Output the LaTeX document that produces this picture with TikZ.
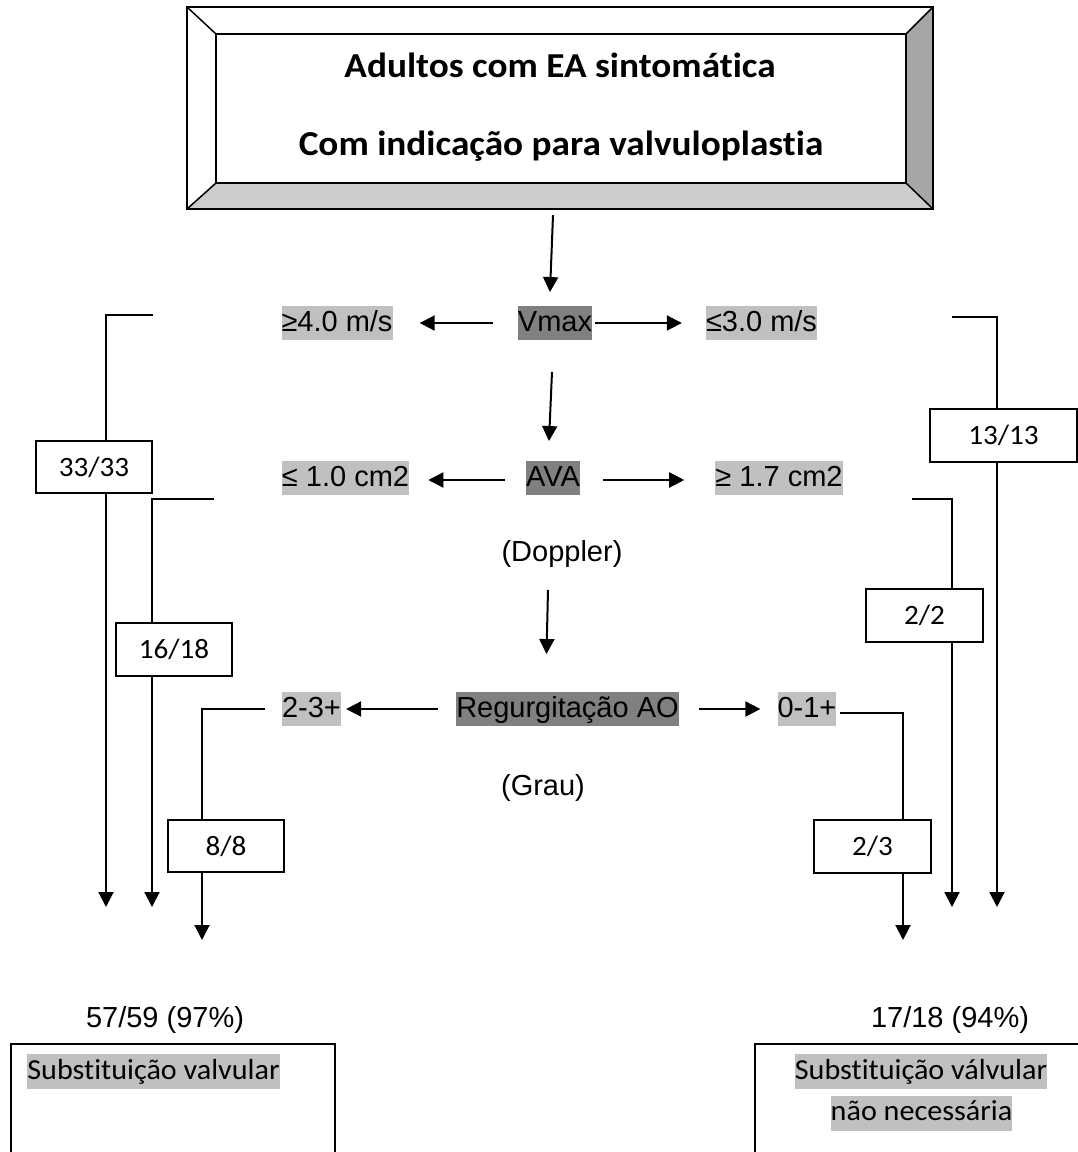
\documentclass[tikz,border=0pt]{standalone}
\usepackage{fontspec}
\setmainfont{Liberation Sans}
\newfontfamily\carl[Ligatures=NoCommon,FakeStretch=1.04]{Carlito}
\newfontfamily\carlt[Ligatures=NoCommon,FakeStretch=1.065]{Carlito}
\usetikzlibrary{arrows.meta}
\definecolor{hl}{HTML}{C0C0C0}
\definecolor{hd}{HTML}{808080}
\definecolor{bevR}{HTML}{A6A6A6}
\definecolor{bevB}{HTML}{CCCCCC}
\begin{document}
\begin{tikzpicture}[x=1pt,y=-1pt,
  arr/.style={line width=2pt,-{Triangle[width=15pt,length=15pt]}},
  ln/.style={line width=2pt},
  ar/.style={font=\fontsize{29}{34}\selectfont, inner sep=0pt, text height=23pt, text depth=6.5pt, inner ysep=2pt},
  hlL/.style={ar, fill=hl},
  hlD/.style={ar, fill=hd},
  numbox/.style={draw, line width=1.5pt, fill=white, inner sep=0pt, font=\carl\fontsize{28}{32}\selectfont},
  ct/.style={font=\carl\fontsize{29}{34}\selectfont, inner sep=0pt, fill=hl, text height=23pt, text depth=8pt, inner ysep=2pt},
  resbox/.style={draw, line width=1.5pt, inner sep=0pt, anchor=north west},
  ttl/.style={font=\carlt\bfseries\fontsize{35}{40}\selectfont, anchor=base, inner sep=0pt}
]
\useasboundingbox (0,0) rectangle (1078,1152);
\clip (0,0) rectangle (1078,1152);
\fill[white] (0,0) rectangle (1078,1152);

% ---- top bevelled box ----
\node[minimum width=746pt, minimum height=202pt, inner sep=0pt] (top) at (560,108) {};
\fill[white] (187,7) rectangle (933,209);
\fill[bevR] (933,7) -- (933,209) -- (906,183) -- (906,34) -- cycle;
\fill[bevB] (187,209) -- (933,209) -- (906,183) -- (216,183) -- cycle;
\draw[line width=1.5pt] (187,7) rectangle (933,209);
\draw[line width=1.5pt] (216,34) rectangle (906,183);
\draw[line width=1.5pt] (187,7) -- (216,34) (933,7) -- (906,34) (187,209) -- (216,183) (933,209) -- (906,183);
\node[ttl] (t1) at (560,77) {Adultos com EA sintomática};
\node[ttl] (t2) at (561,155) {Com indicação para valvuloplastia};

% ---- row 1 ----
\node[hlL] (vge4) at (337,323) {≥4.0 m/s};
\node[hlD] (vmax) at (555,323) {Vmax};
\node[hlL] (vle3) at (761.5,323) {≤3.0 m/s};
% ---- row 2 ----
\node[hlL] (ale1) at (345.5,478) {≤ 1.0 cm2};
\node[hlD] (ava) at (553,478) {AVA};
\node[hlL] (age17) at (779,478) {≥ 1.7 cm2};
\node[ar] (doppler) at (562,553) {(Doppler)};
% ---- row 3 ----
\node[hlL] (r23) at (311.5,709) {2-3+};
\node[hlD] (regurg) at (567.5,709) {Regurgitação AO};
\node[hlL] (r01) at (807,709) {0-1+};
\node[ar] (grau) at (543,787) {(Grau)};

% ---- central arrows ----
\draw[arr] ([xshift=-7pt,yshift=-6pt]top.south) -- ([xshift=-5pt,yshift=14pt]vmax.north);
\draw[arr] ([xshift=-25pt]vmax.west) -- ([xshift=27pt]vge4.east);
\draw[arr] ([xshift=3pt]vmax.east) -- ([xshift=-24pt]vle3.west);
\draw[arr] ([xshift=-3pt,yshift=-32pt]vmax.south) -- ([xshift=-4pt,yshift=20pt]ava.north);
\draw[arr] ([xshift=-21pt,yshift=-2pt]ava.west) -- ([xshift=19pt,yshift=-2pt]ale1.east);
\draw[arr] ([xshift=23pt,yshift=-2pt]ava.east) -- ([xshift=-31pt,yshift=-2pt]age17.west);
\draw[arr] ([xshift=-14pt,yshift=-20pt]doppler.south) -- ([xshift=-21pt,yshift=38pt]regurg.north);
\draw[arr] ([xshift=-18pt]regurg.west) -- ([xshift=5pt]r23.east);
\draw[arr] ([xshift=20pt]regurg.east) -- ([xshift=-17pt]r01.west);

% ---- count boxes ----
\node[numbox, minimum width=116pt, minimum height=52pt] (b33) at (94,467) {33/33};
\node[numbox, minimum width=116pt, minimum height=53pt] (b1618) at (174,649.5) {16/18};
\node[numbox, minimum width=116pt, minimum height=52pt] (b88) at (226,846) {8/8};
\node[numbox, minimum width=117pt, minimum height=53pt] (b23) at (872.5,846.5) {2/3};
\node[numbox, minimum width=117pt, minimum height=53pt] (b22) at (924.5,615.5) {2/2};
\node[numbox, minimum width=147pt, minimum height=53pt] (b1313) at (1003.5,435.5) {13/13};

% ---- bracket connectors ----
\coordinate (c1) at (153,315);  \coordinate (c1b) at (106,907);
\coordinate (c2) at (214,499);  \coordinate (c2b) at (152,907);
\coordinate (c3) at (265,709);  \coordinate (c3b) at (202,940);
\coordinate (c4) at (840,713);  \coordinate (c4b) at (903,940);
\coordinate (c5) at (912,499);  \coordinate (c5b) at (952,907);
\coordinate (c6) at (952,317);  \coordinate (c6b) at (997,907);

\draw[ln] (c1) -- (c1 -| c1b) -- (b33.north -| c1b);
\draw[arr] (b33.south -| c1b) -- (c1b);
\draw[ln] (c2) -- (c2 -| c2b) -- (b1618.north -| c2b);
\draw[arr] (b1618.south -| c2b) -- (c2b);
\draw[ln] (c3) -- (c3 -| c3b) -- (b88.north -| c3b);
\draw[arr] (b88.south -| c3b) -- (c3b);
\draw[ln] (c4) -- (c4 -| c4b) -- (b23.north -| c4b);
\draw[arr] (b23.south -| c4b) -- (c4b);
\draw[ln] (c5) -- (c5 -| c5b) -- (b22.north -| c5b);
\draw[arr] (b22.south -| c5b) -- (c5b);
\draw[ln] (c6) -- (c6 -| c6b) -- (b1313.north -| c6b);
\draw[arr] (b1313.south -| c6b) -- (c6b);

% ---- results ----
\node[ar] (t57) at (165,1019) {57/59 (97\%)};
\node[ar] (t17) at (950,1019) {17/18 (94\%)};
\node[resbox, minimum width=324pt, minimum height=140pt] (resL) at (10,1043) {};
\node[resbox, minimum width=340pt, minimum height=140pt] (resR) at (754,1043) {};
\node[ct] (sL) at (153.5,1071.5) {Substituição valvular};
\node[ct] (sR1) at (921,1071.5) {Substituição válvular};
\node[ct] (sR2) at (921.5,1113) {não necessária};
\end{tikzpicture}
\end{document}
